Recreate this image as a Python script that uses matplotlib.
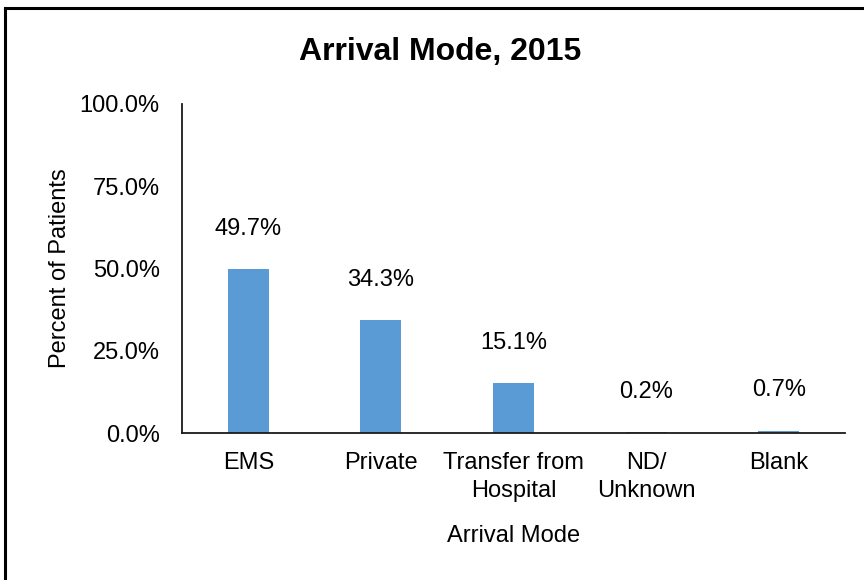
import matplotlib.pyplot as plt
from matplotlib.lines import Line2D

plt.rcParams['font.family'] = ['Liberation Sans Narrow', 'Liberation Sans', 'DejaVu Sans']

# Data
categories = ['EMS', 'Private', 'Transfer from\nHospital', 'ND/\nUnknown', 'Blank']
percents = [49.7, 34.3, 15.1, 0.2, 0.7]
yticks = [0, 25, 50, 75, 100]

fig = plt.figure(figsize=(8.64, 5.8), dpi=100)
ax = fig.add_axes([0.2106, 0.2534, 0.7674, 0.5673])

x = range(len(categories))
ax.bar(x, percents, width=0.31, color='#5B9BD5')

for xi, v in zip(x, percents):
    ax.annotate(f'{v:.1f}%', (xi, v), xytext=(0, 29), textcoords='offset points',
                ha='center', va='center', fontsize=17)

ax.set_xlim(-0.5, len(categories) - 0.5)
ax.set_ylim(0, 100)
ax.set_yticks(yticks)
ax.set_yticklabels([f'{t:.1f}%' for t in yticks], fontsize=17)
ax.set_xticks(list(x))
ax.set_xticklabels(categories, fontsize=17, linespacing=1.3)
ax.tick_params(axis='both', length=0)
ax.tick_params(axis='y', pad=16)
ax.tick_params(axis='x', pad=14)

for side in ['top', 'right']:
    ax.spines[side].set_visible(False)
for side in ['left', 'bottom']:
    ax.spines[side].set_linewidth(1.3)
    ax.spines[side].set_color('#1a1a1a')

fig.text(0.509, 0.910, 'Arrival Mode, 2015', ha='center', va='center',
         fontsize=23, fontweight='bold')
fig.text(0.069, 0.537, 'Percent of Patients', rotation=90, ha='center', va='center',
         fontsize=17)
fig.text(0.594, 0.076, 'Arrival Mode', ha='center', va='center', fontsize=17)

# Frame lines along the top and left edges
fig.add_artist(Line2D([0.006, 1.0], [0.987, 0.987], color='black', linewidth=2.2,
                      transform=fig.transFigure))
fig.add_artist(Line2D([0.006, 0.006], [0.0, 0.987], color='black', linewidth=2.2,
                      transform=fig.transFigure))

fig.savefig('out.png', dpi=100)
